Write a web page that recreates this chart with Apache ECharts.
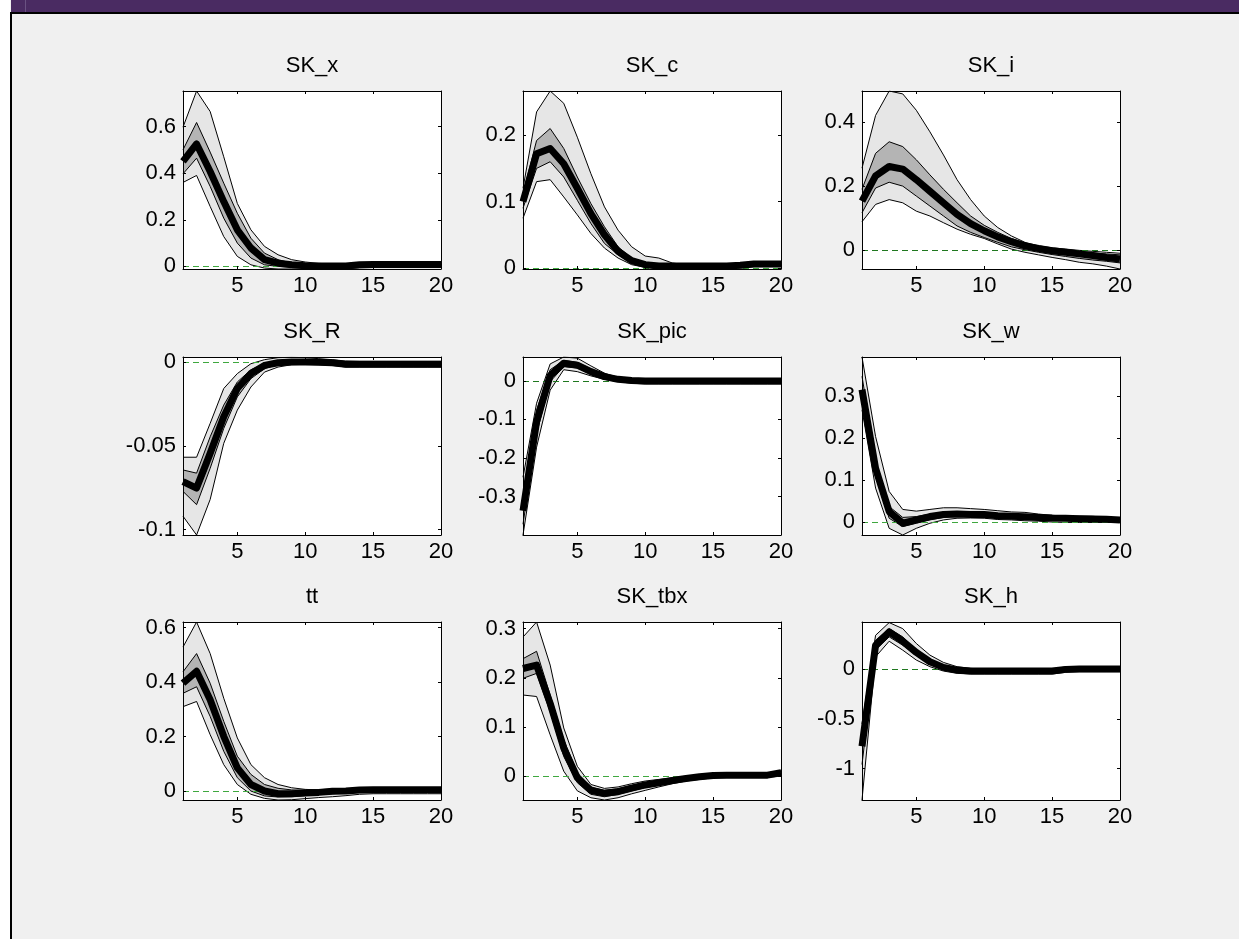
<!DOCTYPE html>
<html>
<head>
<meta charset="utf-8">
<script src="https://cdn.jsdelivr.net/npm/echarts@6/dist/echarts.min.js"></script>
<style>
  html, body { margin: 0; padding: 0; background: #ffffff; }
  #main { width: 1239px; height: 939px; }
</style>
</head>
<body>
<div id="main"></div>
<script>
// ---------------- DATA ----------------
const horizons = [1, 2, 3, 4, 5, 6, 7, 8, 9, 10, 11, 12, 13, 14, 15, 16, 17, 18, 19, 20];
const xTickValues = [5, 10, 15, 20];
const panelTitles = ['SK_x', 'SK_c', 'SK_i', 'SK_R', 'SK_pic', 'SK_w', 'tt', 'SK_tbx', 'SK_h'];
const yMinByPanel = [-0.011, -0.0015, -0.058, -0.1032, -0.40, -0.031, -0.033, -0.0486, -1.318];
const yMaxByPanel = [0.752, 0.2665, 0.496, 0.003, 0.062, 0.394, 0.621, 0.3136, 0.478];
const yTickValues = [
  [0, 0.2, 0.4, 0.6],
  [0, 0.1, 0.2],
  [0, 0.2, 0.4],
  [-0.1, -0.05, 0],
  [-0.3, -0.2, -0.1, 0],
  [0, 0.1, 0.2, 0.3],
  [0, 0.2, 0.4, 0.6],
  [0, 0.1, 0.2, 0.3],
  [-1, -0.5, 0]
];

// SK_x
const SK_x_outerHi = [0.597, 0.752, 0.664, 0.47, 0.27, 0.157, 0.086, 0.05, 0.029, 0.019, 0.013, 0.011, 0.01, 0.012, 0.012, 0.012, 0.012, 0.012, 0.012, 0.012];
const SK_x_innerHi = [0.50, 0.617, 0.49, 0.357, 0.228, 0.121, 0.057, 0.029, 0.014, 0.008, 0.006, 0.005, 0.005, 0.01, 0.01, 0.01, 0.01, 0.01, 0.01, 0.01];
const SK_x_median  = [0.45, 0.525, 0.407, 0.278, 0.157, 0.079, 0.029, 0.014, 0.007, 0.003, 0.002, 0.002, 0.002, 0.007, 0.008, 0.008, 0.008, 0.008, 0.008, 0.008];
const SK_x_innerLo = [0.397, 0.464, 0.343, 0.207, 0.10, 0.036, 0.007, 0, -0.002, -0.003, -0.003, -0.003, -0.003, 0.003, 0.004, 0.004, 0.004, 0.004, 0.004, 0.004];
const SK_x_outerLo = [0.36, 0.39, 0.257, 0.128, 0.043, 0.007, -0.007, -0.011, -0.011, -0.011, -0.011, -0.011, -0.01, -0.006, -0.005, -0.005, -0.005, -0.005, -0.005, -0.005];

// SK_c
const SK_c_outerHi = [0.12, 0.235, 0.2665, 0.248, 0.197, 0.142, 0.092, 0.057, 0.032, 0.018, 0.015, 0.0075, 0.005, 0.005, 0.005, 0.005, 0.006, 0.008, 0.008, 0.008];
const SK_c_innerHi = [0.112, 0.192, 0.21, 0.18, 0.137, 0.097, 0.062, 0.032, 0.015, 0.0075, 0.005, 0.004, 0.004, 0.004, 0.004, 0.004, 0.005, 0.007, 0.007, 0.007];
const SK_c_median  = [0.1, 0.172, 0.18, 0.157, 0.12, 0.082, 0.05, 0.025, 0.011, 0.005, 0.003, 0.003, 0.003, 0.003, 0.003, 0.003, 0.004, 0.006, 0.006, 0.006];
const SK_c_innerLo = [0.09, 0.15, 0.16, 0.137, 0.102, 0.067, 0.037, 0.02, 0.0075, 0.0025, 0.001, 0.001, 0.001, 0.001, 0.001, 0.001, 0.002, 0.004, 0.004, 0.004];
const SK_c_outerLo = [0.075, 0.13, 0.133, 0.107, 0.08, 0.052, 0.03, 0.015, 0.005, 0.001, 0, -0.0005, -0.0005, -0.0005, -0.0005, -0.0005, 0, 0.002, 0.002, 0.002];

// SK_i
const SK_i_outerHi = [0.256, 0.42, 0.496, 0.487, 0.436, 0.369, 0.297, 0.22, 0.158, 0.107, 0.071, 0.045, 0.025, 0.014, 0.008, 0.004, 0, -0.003, -0.006, -0.009];
const SK_i_innerHi = [0.19, 0.302, 0.338, 0.323, 0.282, 0.235, 0.19, 0.148, 0.107, 0.078, 0.056, 0.037, 0.023, 0.012, 0.006, 0.001, -0.004, -0.008, -0.011, -0.014];
const SK_i_median  = [0.153, 0.232, 0.261, 0.253, 0.22, 0.184, 0.148, 0.112, 0.083, 0.061, 0.042, 0.027, 0.014, 0.006, -0.001, -0.006, -0.011, -0.016, -0.022, -0.027];
const SK_i_innerLo = [0.117, 0.194, 0.212, 0.2, 0.169, 0.138, 0.107, 0.076, 0.056, 0.04, 0.025, 0.011, 0.002, -0.006, -0.013, -0.019, -0.025, -0.03, -0.034, -0.039];
const SK_i_outerLo = [0.089, 0.143, 0.158, 0.148, 0.122, 0.107, 0.086, 0.066, 0.05, 0.037, 0.02, 0.004, -0.006, -0.014, -0.022, -0.029, -0.037, -0.042, -0.049, -0.058];

// SK_R
const SK_R_outerHi = [-0.0568, -0.0568, -0.0366, -0.0158, -0.0069, -0.001, 0.0014, 0.0026, 0.0028, 0.0026, 0.002, 0.0014, 0.0006, 0.0004, 0.0004, 0.0004, 0.0004, 0.0004, 0.0004, 0.0004];
const SK_R_innerHi = [-0.0644, -0.0663, -0.0446, -0.0257, -0.0119, -0.0046, -0.001, 0.0006, 0.001, 0.001, 0.0006, 0, -0.0006, -0.0006, -0.0006, -0.0006, -0.0006, -0.0006, -0.0006, -0.0006];
const SK_R_median  = [-0.0713, -0.0752, -0.0545, -0.0327, -0.0158, -0.0069, -0.002, -0.0004, 0, 0, -0.0002, -0.0004, -0.0014, -0.0014, -0.0014, -0.0014, -0.0014, -0.0014, -0.0014, -0.0014];
const SK_R_innerLo = [-0.0772, -0.0851, -0.0634, -0.0396, -0.0208, -0.0099, -0.004, -0.0014, -0.0006, -0.0006, -0.001, -0.0014, -0.0024, -0.0024, -0.0024, -0.0024, -0.0024, -0.0024, -0.0024, -0.0024];
const SK_R_outerLo = [-0.092, -0.1032, -0.082, -0.0485, -0.0287, -0.0149, -0.006, -0.003, -0.0016, -0.0014, -0.0016, -0.002, -0.003, -0.003, -0.003, -0.003, -0.003, -0.003, -0.003, -0.003];

// SK_pic
const SK_pic_outerHi = [-0.25, -0.058, 0.044, 0.062, 0.059, 0.039, 0.02, 0.009, 0.004, 0.003, 0.003, 0.003, 0.003, 0.003, 0.003, 0.003, 0.003, 0.003, 0.003, 0.003];
const SK_pic_innerHi = [-0.30, -0.076, 0.029, 0.053, 0.048, 0.031, 0.015, 0.006, 0.003, 0.003, 0.003, 0.003, 0.003, 0.003, 0.003, 0.003, 0.003, 0.003, 0.003, 0.003];
const SK_pic_median  = [-0.337, -0.106, 0.014, 0.046, 0.041, 0.024, 0.011, 0.004, 0.001, 0, 0, 0, 0, 0, 0, 0, 0, 0, 0, 0];
const SK_pic_innerLo = [-0.372, -0.137, -0.002, 0.037, 0.033, 0.018, 0.007, 0.001, -0.003, -0.003, -0.003, -0.003, -0.003, -0.003, -0.003, -0.003, -0.003, -0.003, -0.003, -0.003];
const SK_pic_outerLo = [-0.40, -0.172, -0.024, 0.029, 0.024, 0.013, 0.004, -0.002, -0.006, -0.008, -0.008, -0.008, -0.008, -0.008, -0.008, -0.008, -0.008, -0.008, -0.008, -0.008];

// SK_w
const SK_w_outerHi = [0.394, 0.204, 0.073, 0.030, 0.026, 0.030, 0.034, 0.034, 0.032, 0.030, 0.027, 0.024, 0.023, 0.019, 0.016, 0.014, 0.014, 0.0136, 0.011, 0.009];
const SK_w_innerHi = [0.348, 0.148, 0.037, 0.011, 0.013, 0.019, 0.022, 0.024, 0.023, 0.022, 0.019, 0.018, 0.017, 0.015, 0.014, 0.013, 0.012, 0.011, 0.0096, 0.007];
const SK_w_median  = [0.316, 0.128, 0.025, -0.003, 0.005, 0.013, 0.018, 0.019, 0.018, 0.018, 0.015, 0.0136, 0.0128, 0.011, 0.0096, 0.009, 0.008, 0.007, 0.0064, 0.005];
const SK_w_innerLo = [0.292, 0.108, 0.009, -0.011, -0.003, 0.005, 0.011, 0.0136, 0.0144, 0.013, 0.011, 0.0096, 0.008, 0.0064, 0.0048, 0.0048, 0.004, 0.0032, 0.0032, 0.0016];
const SK_w_outerLo = [0.268, 0.081, -0.015, -0.031, -0.015, -0.003, 0.005, 0.009, 0.0096, 0.009, 0.006, 0.005, 0.003, 0.002, 0, -0.001, -0.001, -0.001, -0.001, -0.001];

// tt
const tt_outerHi = [0.529, 0.621, 0.505, 0.341, 0.195, 0.097, 0.049, 0.024, 0.012, 0.006, 0.004, 0.003, 0.005, 0.01, 0.01, 0.01, 0.01, 0.01, 0.01, 0.01];
const tt_innerHi = [0.438, 0.505, 0.396, 0.256, 0.128, 0.061, 0.024, 0.01, 0.004, 0.003, 0.005, 0.007, 0.008, 0.012, 0.012, 0.012, 0.012, 0.012, 0.012, 0.012];
const tt_median  = [0.396, 0.44, 0.335, 0.201, 0.085, 0.024, 0, -0.01, -0.01, -0.007, -0.005, -0.001, 0, 0.004, 0.005, 0.005, 0.005, 0.005, 0.005, 0.005];
const tt_innerLo = [0.359, 0.383, 0.274, 0.146, 0.049, 0, -0.018, -0.022, -0.021, -0.017, -0.013, -0.01, -0.007, -0.004, -0.004, -0.004, -0.004, -0.004, -0.004, -0.004];
const tt_outerLo = [0.31, 0.329, 0.207, 0.097, 0.024, -0.012, -0.027, -0.033, -0.032, -0.028, -0.024, -0.021, -0.017, -0.012, -0.01, -0.01, -0.01, -0.01, -0.01, -0.01];

// SK_tbx
const SK_tbx_outerHi = [0.283, 0.3136, 0.226, 0.098, 0.02, -0.017, -0.025, -0.022, -0.0155, -0.01, -0.0067, -0.0034, -0.0007, 0.0013, 0.0047, 0.0054, 0.0054, 0.0054, 0.0054, 0.012];
const SK_tbx_innerHi = [0.239, 0.254, 0.165, 0.074, 0.0067, -0.022, -0.029, -0.0256, -0.019, -0.0135, -0.0094, -0.0054, -0.002, 0.0007, 0.0034, 0.004, 0.004, 0.004, 0.004, 0.0094];
const SK_tbx_median  = [0.219, 0.226, 0.148, 0.057, -0.0034, -0.029, -0.035, -0.0317, -0.0243, -0.018, -0.0135, -0.0088, -0.0047, -0.0013, 0.0013, 0.002, 0.002, 0.002, 0.002, 0.0067];
const SK_tbx_innerLo = [0.199, 0.209, 0.131, 0.04, -0.0135, -0.037, -0.042, -0.037, -0.03, -0.0236, -0.018, -0.0128, -0.008, -0.004, -0.0013, -0.0007, -0.0007, -0.0007, -0.0007, 0.0034];
const SK_tbx_outerLo = [0.165, 0.162, 0.084, 0.01, -0.03, -0.044, -0.0486, -0.044, -0.036, -0.029, -0.022, -0.0155, -0.01, -0.0067, -0.0034, -0.002, -0.002, -0.002, -0.002, 0];

// SK_h
const SK_h_outerHi = [-0.55, 0.344, 0.472, 0.411, 0.261, 0.144, 0.07, 0.027, 0.01, 0.003, 0.003, 0.003, 0.003, 0.003, 0.003, 0.025, 0.025, 0.025, 0.025, 0.025];
const SK_h_innerHi = [-0.66, 0.294, 0.411, 0.328, 0.194, 0.094, 0.037, 0.01, 0, 0, 0, 0, 0, 0, 0, 0.013, 0.017, 0.017, 0.017, 0.017];
const SK_h_median  = [-0.776, 0.244, 0.378, 0.284, 0.171, 0.077, 0.02, -0.007, -0.017, -0.017, -0.017, -0.017, -0.017, -0.017, -0.017, 0, 0.003, 0.003, 0.003, 0.003];
const SK_h_innerLo = [-0.96, 0.194, 0.328, 0.244, 0.144, 0.06, 0.003, -0.023, -0.03, -0.03, -0.03, -0.03, -0.03, -0.03, -0.03, -0.017, -0.01, -0.01, -0.01, -0.01];
const SK_h_outerLo = [-1.318, 0.127, 0.284, 0.194, 0.094, 0.027, -0.017, -0.04, -0.047, -0.047, -0.047, -0.047, -0.047, -0.047, -0.047, -0.03, -0.023, -0.023, -0.023, -0.023];

const bandsByPanel = [
  [SK_x_outerHi, SK_x_innerHi, SK_x_median, SK_x_innerLo, SK_x_outerLo],
  [SK_c_outerHi, SK_c_innerHi, SK_c_median, SK_c_innerLo, SK_c_outerLo],
  [SK_i_outerHi, SK_i_innerHi, SK_i_median, SK_i_innerLo, SK_i_outerLo],
  [SK_R_outerHi, SK_R_innerHi, SK_R_median, SK_R_innerLo, SK_R_outerLo],
  [SK_pic_outerHi, SK_pic_innerHi, SK_pic_median, SK_pic_innerLo, SK_pic_outerLo],
  [SK_w_outerHi, SK_w_innerHi, SK_w_median, SK_w_innerLo, SK_w_outerLo],
  [tt_outerHi, tt_innerHi, tt_median, tt_innerLo, tt_outerLo],
  [SK_tbx_outerHi, SK_tbx_innerHi, SK_tbx_median, SK_tbx_innerLo, SK_tbx_outerLo],
  [SK_h_outerHi, SK_h_innerHi, SK_h_median, SK_h_innerLo, SK_h_outerLo]
];

// ---------------- STYLE / LAYOUT ----------------
const FONT = '"Liberation Sans", Arial, Helvetica, sans-serif';
const FONT_SIZE = 22;
const gridLefts = [183, 523, 862];
const gridTops = [91, 357, 622];
const gridW = 258, gridH = 178;
const zeroColors = ['#3fa83f', '#3fa83f', '#1f781f', '#3fa83f', '#1f781f', '#3fa83f', '#3fa83f', '#3fa83f', '#1f781f'];
const OUTER_FILL = '#e6e6e6';
const INNER_FILL = '#b4b4b4';

const grids = [], xAxes = [], yAxes = [], series = [];
const graphics = [
  { type: 'rect', silent: true, shape: { x: 0, y: 0, width: 10, height: 939 }, style: { fill: '#ffffff' } },
  { type: 'rect', silent: true, shape: { x: 11, y: 0, width: 1228, height: 12 }, style: { fill: '#4a2b62' } },
  { type: 'rect', silent: true, shape: { x: 25, y: 0, width: 1, height: 12 }, style: { fill: '#6a5282' } },
  { type: 'rect', silent: true, shape: { x: 10, y: 12, width: 1229, height: 2 }, style: { fill: '#000000' } },
  { type: 'rect', silent: true, shape: { x: 10, y: 12, width: 2, height: 927 }, style: { fill: '#000000' } }
];

const isXTick = (idx, val) => xTickValues.indexOf(Number(val)) >= 0;
const fmt = v => String(+(+v).toFixed(6));

panelTitles.forEach((title, i) => {
  const col = i % 3, row = Math.floor(i / 3);
  const left = gridLefts[col], top = gridTops[row];
  const [outerHi, innerHi, median, innerLo, outerLo] = bandsByPanel[i];

  grids.push({ left, top, width: gridW, height: gridH, show: true, backgroundColor: '#ffffff',
               borderWidth: 0, containLabel: false, outerBoundsMode: 'none' });

  const xBase = {
    type: 'category', gridIndex: i, data: horizons.map(String), boundaryGap: false, z: 10,
    axisLine: { show: true, onZero: false, lineStyle: { color: '#000', width: 1 } },
    axisTick: { show: true, inside: true, length: 3, interval: isXTick, lineStyle: { color: '#000', width: 1 } },
    splitLine: { show: false }, splitArea: { show: false }
  };
  xAxes.push(Object.assign({}, xBase, { position: 'bottom',
    axisLabel: { show: true, interval: isXTick, color: '#000', fontSize: FONT_SIZE, fontFamily: FONT, margin: 6 } }));
  xAxes.push(Object.assign({}, xBase, { position: 'top', axisLabel: { show: false } }));

  const yBase = {
    type: 'value', gridIndex: i, min: yMinByPanel[i], max: yMaxByPanel[i], z: 10, scale: true,
    axisLine: { show: true, onZero: false, lineStyle: { color: '#000', width: 1 } },
    axisTick: { show: true, inside: true, length: 3, customValues: yTickValues[i], lineStyle: { color: '#000', width: 1 } },
    splitLine: { show: false }, splitArea: { show: false }
  };
  yAxes.push(Object.assign({}, yBase, { position: 'left',
    axisLabel: { show: true, customValues: yTickValues[i], formatter: fmt, color: '#000', fontSize: FONT_SIZE, fontFamily: FONT, margin: 7 } }));
  yAxes.push(Object.assign({}, yBase, { position: 'right', axisLabel: { show: false } }));

  const common = { type: 'line', xAxisIndex: 2 * i, yAxisIndex: 2 * i, symbol: 'none', showSymbol: false,
                   silent: true, animation: false, smooth: false };

  // outer band (stacked: lower bound + width)
  series.push(Object.assign({}, common, { name: title + ' outer base', stack: 'outer' + i, stackStrategy: 'all',
    data: outerLo, lineStyle: { width: 0, opacity: 0 }, z: 2 }));
  series.push(Object.assign({}, common, { name: title + ' outer band', stack: 'outer' + i, stackStrategy: 'all',
    data: outerHi.map((v, k) => v - outerLo[k]), lineStyle: { width: 0, opacity: 0 },
    areaStyle: { color: OUTER_FILL, opacity: 1 }, z: 2 }));
  // inner band
  series.push(Object.assign({}, common, { name: title + ' inner base', stack: 'inner' + i, stackStrategy: 'all',
    data: innerLo, lineStyle: { width: 0, opacity: 0 }, z: 3 }));
  series.push(Object.assign({}, common, { name: title + ' inner band', stack: 'inner' + i, stackStrategy: 'all',
    data: innerHi.map((v, k) => v - innerLo[k]), lineStyle: { width: 0, opacity: 0 },
    areaStyle: { color: INNER_FILL, opacity: 1 }, z: 3 }));
  // band outlines
  [outerHi, outerLo, innerHi, innerLo].forEach((arr, k) => {
    series.push(Object.assign({}, common, { name: title + ' edge ' + k, data: arr,
      lineStyle: { color: '#000', width: 1 }, z: 4 }));
  });
  // median
  series.push(Object.assign({}, common, { name: title + ' median', data: median,
    lineStyle: { color: '#000', width: 7, join: 'round', cap: 'butt' }, z: 5 }));
  // zero line
  series.push(Object.assign({}, common, { name: title + ' zero', data: [], z: 6,
    markLine: { symbol: 'none', silent: true, animation: false, label: { show: false },
      lineStyle: { color: zeroColors[i], type: [6, 4], width: 1 }, data: [{ yAxis: 0 }] } }));

  graphics.push({ type: 'text', silent: true, x: left + gridW / 2, y: top - 25, z: 20,
    style: { text: title, fill: '#000', fontSize: FONT_SIZE, fontFamily: FONT,
             align: 'center', verticalAlign: 'middle', textAlign: 'center', textVerticalAlign: 'middle' } });
});

const chart = echarts.init(document.getElementById('main'), null, { renderer: 'canvas', width: 1239, height: 939 });
chart.setOption({
  backgroundColor: '#f0f0f0',
  animation: false,
  tooltip: { show: false },
  grid: grids,
  xAxis: xAxes,
  yAxis: yAxes,
  series: series,
  graphic: graphics
});
</script>
</body>
</html>
